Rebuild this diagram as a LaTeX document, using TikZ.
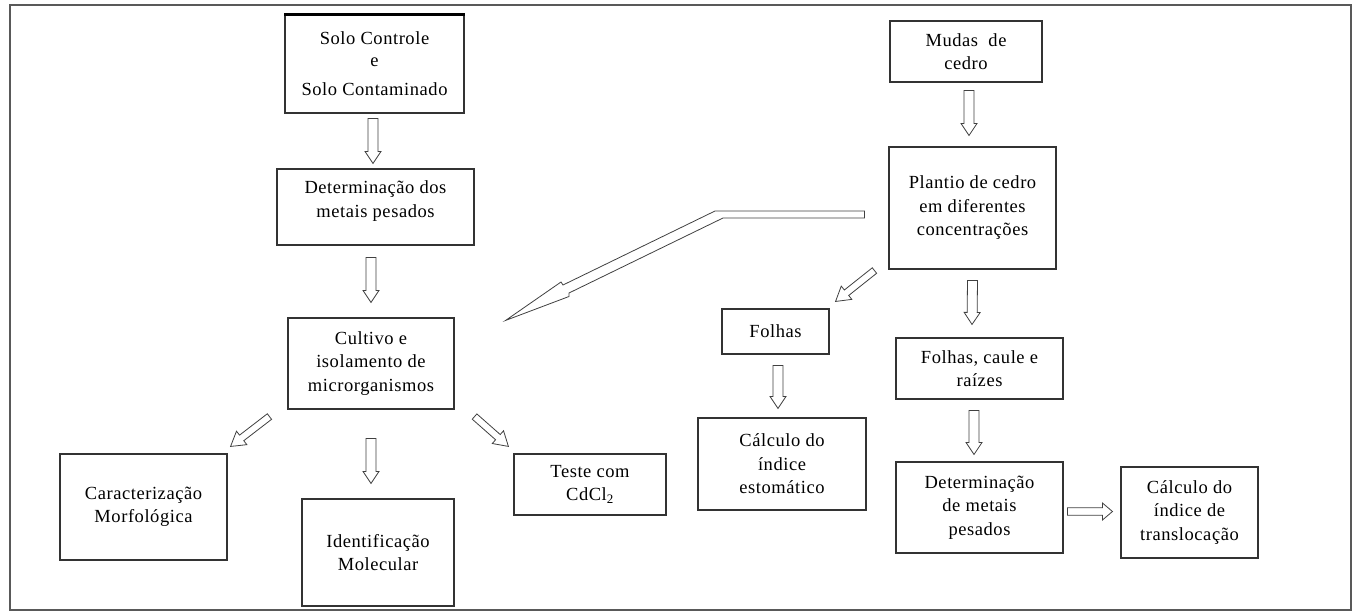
\documentclass[tikz,border=0pt]{standalone}
\usepackage{fontspec}
\setmainfont{Liberation Serif}[LetterSpace=3]
\usetikzlibrary{calc}
\tikzset{
  arrsw/.store in=\aSW, arrhw/.store in=\aHW, arrhl/.store in=\aHL,
  arrsw=5pt, arrhw=8pt, arrhl=12pt,
  box/.style={draw=black!80, line width=1.1pt, fill=white, align=center, inner sep=2pt,
    font=\fontsize{18.5}{23.5}\selectfont},
  hollow/.style={draw=black!75, line width=0.8pt, fill=white, line join=miter,
    to path={let \p1=(\tikztostart), \p2=(\tikztotarget),
      \n1={atan2(\y2-\y1,\x2-\x1)}, \n2={veclen(\x2-\x1,\y2-\y1)} in
      ([shift={(\p1)},rotate={\n1}]0pt,{-\aSW})
      -- ([shift={(\p1)},rotate={\n1}]{\n2-\aHL},{-\aSW})
      -- ([shift={(\p1)},rotate={\n1}]{\n2-\aHL},{-\aHW})
      -- ([shift={(\p1)},rotate={\n1}]{\n2},0pt)
      -- ([shift={(\p1)},rotate={\n1}]{\n2-\aHL},{\aHW})
      -- ([shift={(\p1)},rotate={\n1}]{\n2-\aHL},{\aSW})
      -- ([shift={(\p1)},rotate={\n1}]0pt,{\aSW}) -- cycle}},
  diag/.style={hollow, arrsw=3.5pt, arrhw=8.5pt, arrhl=14pt},
  frame/.style={draw=black!65, line width=1.2pt}
}
\begin{document}
\begin{tikzpicture}[x=1pt,y=-1pt]
\useasboundingbox (0,0) rectangle (1356,612);
\draw[frame] (10,5) rectangle (1351,610);

\node[box, minimum width=179pt, minimum height=98pt] (solo) at (374.5,64) {Solo Controle\\[-2pt]e\\[6pt]Solo Contaminado};
\draw[line width=2.6pt, black] (solo.north west) -- (solo.north east);
\node[box, minimum width=197pt, minimum height=76pt] (det1) at (375.5,207) {Determinação dos\\metais pesados\\[-8pt]\mbox{}};
\node[box, minimum width=166pt, minimum height=91pt] (cult) at (371,363.5) {Cultivo e\\isolamento de\\microrganismos};
\node[box, minimum width=167pt, minimum height=106pt] (carac) at (143.5,507) {Caracterização\\Morfológica};
\node[box, minimum width=152pt, minimum height=107pt] (ident) at (378,552.5) {Identificação\\Molecular};
\node[box, minimum width=152pt, minimum height=61pt] (teste) at (590,484.5) {Teste com\\CdCl\textsubscript{2}};
\node[box, minimum width=107pt, minimum height=45pt] (folhas) at (775.5,331.5) {Folhas};
\node[box, minimum width=168pt, minimum height=92pt] (calc1) at (782,464) {Cálculo do\\índice\\estomático};
\node[box, minimum width=152pt, minimum height=61pt] (mudas) at (966,51.5) {Mudas\ \ de\\cedro};
\node[box, minimum width=167pt, minimum height=122pt] (plantio) at (972.5,208) {Plantio de cedro\\em diferentes\\concentrações};
\node[box, minimum width=167pt, minimum height=61pt] (fcr) at (979.5,368.5) {Folhas, caule e\\raízes};
\node[box, minimum width=167pt, minimum height=91pt] (det2) at (979.5,507.5) {Determinação\\de metais\\pesados};
\node[box, minimum width=137pt, minimum height=91pt] (calc2) at (1189.5,512.5) {Cálculo do\\índice de\\translocação};

% vertical / horizontal hollow arrows
\draw[hollow] ([xshift=-1.5pt,yshift=-5pt]solo.south) to ([xshift=-2.5pt,yshift=5pt]det1.north);
\draw[hollow] ([xshift=-4.5pt,yshift=-12pt]det1.south) to ([yshift=15pt]cult.north);
\draw[hollow] ([yshift=-29pt]cult.south) to ([xshift=-7pt,yshift=15pt]ident.north);
\draw[hollow] ([xshift=3pt,yshift=-8pt]mudas.south) to ([xshift=-3.5pt,yshift=11pt]plantio.north);
\draw[hollow] ([yshift=-11pt]plantio.south) to ([xshift=-7.5pt,yshift=13pt]fcr.north);
\draw[hollow] ([xshift=2.5pt,yshift=-11pt]folhas.south) to ([xshift=-4pt,yshift=9pt]calc1.north);
\draw[hollow] ([xshift=-5.5pt,yshift=-11pt]fcr.south) to ([xshift=-5.5pt,yshift=7pt]det2.north);
\draw[hollow, arrsw=3.8pt, arrhw=8.5pt, arrhl=10pt] ([xshift=4pt,yshift=-4pt]det2.east) to ([xshift=-8pt,yshift=1pt]calc2.west);

% diagonal hollow arrows
\draw[diag] ([xshift=-18pt,yshift=-7pt]cult.south west) to ([xshift=3pt,yshift=7pt]carac.north east);
\draw[diag] ([xshift=20pt,yshift=-7pt]cult.south east) to ([xshift=-5pt,yshift=7pt]teste.north west);
\draw[diag] ([xshift=-14pt,yshift=-1pt]plantio.south west) to ([xshift=6pt,yshift=7pt]folhas.north east);

% long bent arrow from plantio towards cultivo
\coordinate (ltail) at ([xshift=-24pt,yshift=-6.5pt]plantio.west);
\coordinate (ltip) at ([xshift=51pt,yshift=-3pt]cult.north east);
\draw[draw=black!75, line width=0.8pt, fill=white]
  ([yshift=3.5pt]ltail) -- (715,211) -- (563,285) -- (561,282) -- (ltip)
  -- (569,296.5) -- (569,293) -- (723,218) -- ([yshift=-3.5pt]ltail) -- cycle;
\end{tikzpicture}
\end{document}
